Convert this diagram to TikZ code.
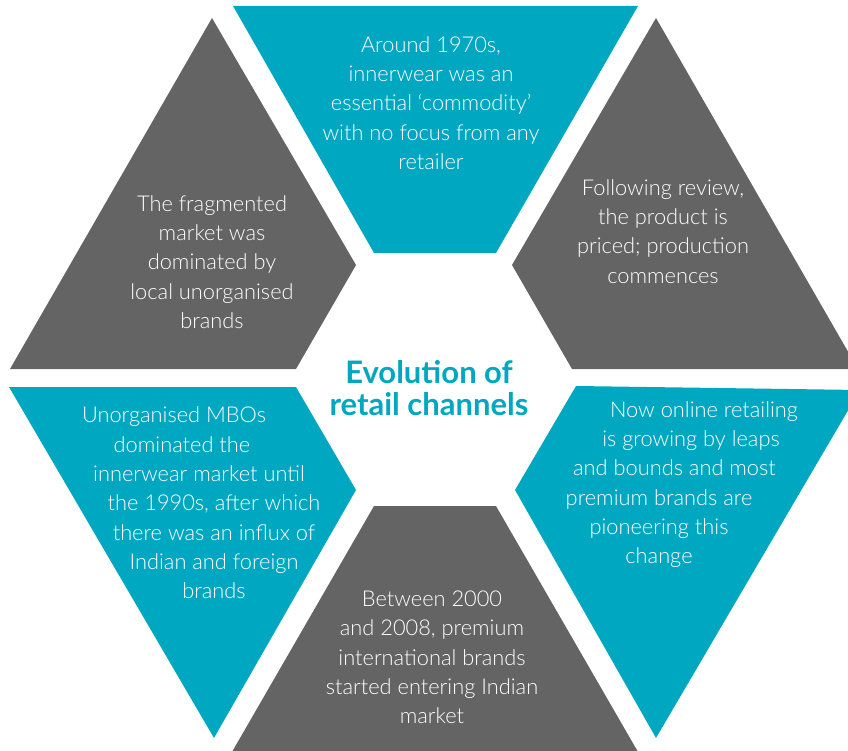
\documentclass[tikz,border=0pt]{standalone}
\usepackage{fontspec}
\setmainfont{Lato Light}[BoldFont=Lato Bold]
\usepackage{xcolor}
\usetikzlibrary{positioning}

\definecolor{tealc}{RGB}{0,167,193}
\definecolor{greyc}{RGB}{100,100,100}

\begin{document}
\begin{tikzpicture}[x=1pt,y=-1pt,on grid,node distance=0pt,
      every node/.style={text=white, align=center, font=\fontsize{21.8}{29.3}\selectfont},
      tealbox/.style={fill=tealc},
      greybox/.style={fill=greyc},
      headline/.style={text=tealc, font=\fontsize{31}{32.5}\selectfont\bfseries}]

      \path[use as bounding box, clip] (0,0) rectangle (848,751);

      % the six pieces round the centre
      \fill[tealbox] (233,6) -- (638,6) -- (496,253) -- (374,253) -- cycle;
      \fill[greybox] (212,18) -- (356,265) -- (296,369) -- (10,369) -- cycle;
      \fill[greybox] (656,18) -- (858,369) -- (572,369) -- (512,265) -- cycle;
      \fill[tealbox] (9,387) -- (296,387) -- (356,490) -- (214,738) -- cycle;
      \fill[greybox] (374,506) -- (496,506) -- (660,790) -- (210,790) -- cycle;
      \fill[tealbox] (576,386) -- (860,390) -- (656,738) -- (515,490) -- cycle;

      \node[headline] (evo) at (429,388) {Evolution of\\retail channels};

      \node[] (era70) [above=285pt of evo, xshift=2pt] {Around 1970s,\\innerwear was an\\essential ‘commodity’\\with no focus from any\\retailer};
      \node[] (fragmented) [above left=126pt and 217pt of evo] {The fragmented\\market was\\dominated by\\local unorganised\\brands};
      \node[] (review) [above right=156.5pt and 234pt of evo] {Following review,\\the product is\\priced; production\\commences};
      \node[] (mbo) [below left=115pt and 215pt of evo] {Unorganised MBOs\kern80pt\\dominated the\kern64pt\\innerwear market until\kern30pt\\the 1990s, after which\\there was an influx of\\Indian and foreign\\brands};
      \node[] (premium) [below=269.5pt of evo, xshift=3pt] {Between 2000\\and 2008, premium\\international brands\\started entering Indian\\market};
      \node[] (online) [below right=96.5pt and 230pt of evo] {\kern90pt Now online retailing\\\kern64pt is growing by leaps\\\kern31pt and bounds and most\\premium brands are\\pioneering this\\change};

    \end{tikzpicture}
\end{document}
